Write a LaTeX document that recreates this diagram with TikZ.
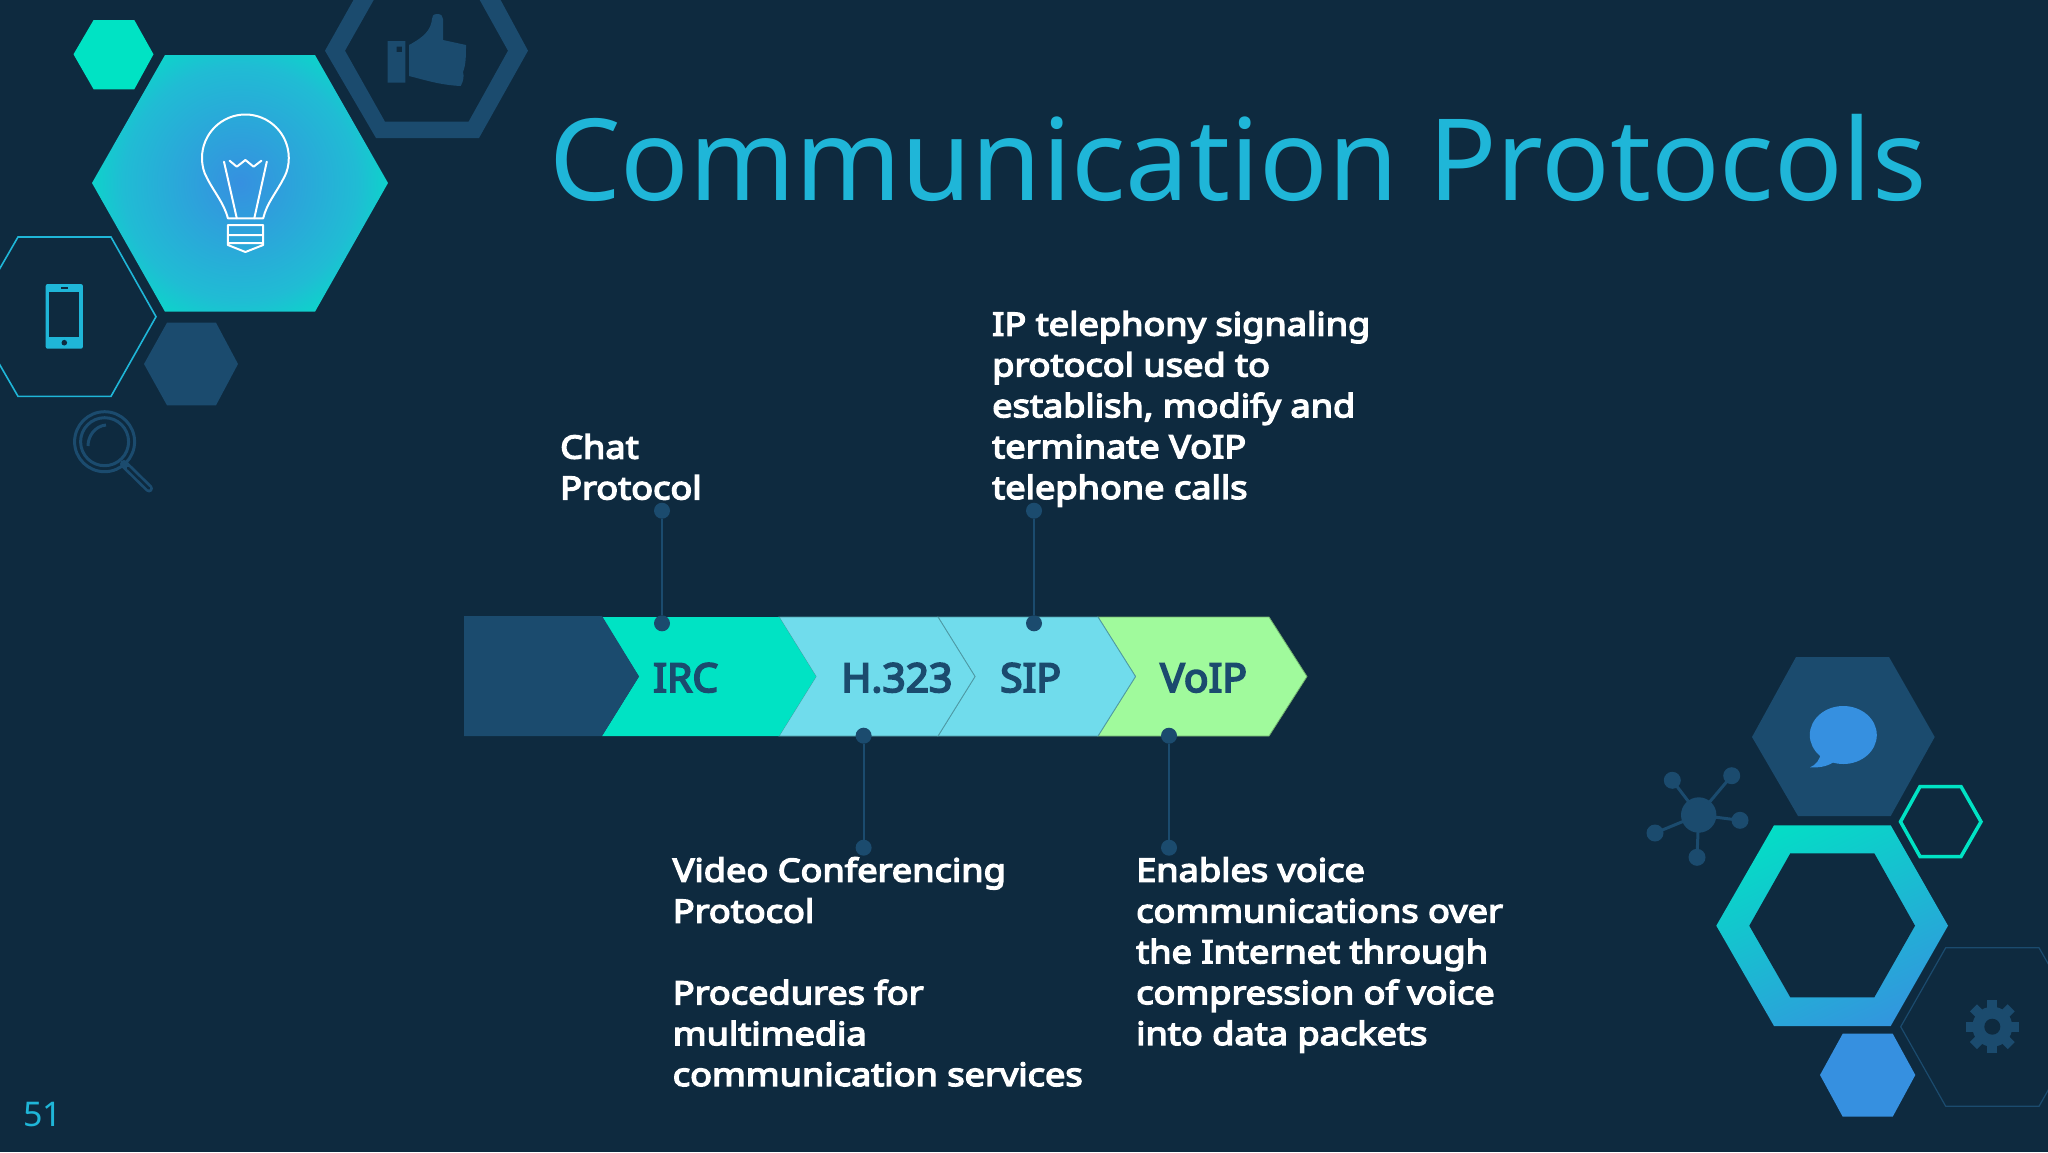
\documentclass[tikz,border=0pt]{standalone}
\usepackage{fontspec}
\setmainfont{Noto Sans}
\newfontfamily\lblfont{Noto Sans}[FakeBold=4.5,FakeStretch=1.13]
\newfontfamily\chevfont{Noto Sans}[FakeBold=4.5,FakeStretch=1.02]
\definecolor{bg}{HTML}{0E2A3F}
\definecolor{navy}{HTML}{1B4B6E}
\definecolor{teal}{HTML}{00E3C4}
\definecolor{sky}{HTML}{70DCEC}
\definecolor{mint}{HTML}{A0FA9C}
\definecolor{azure}{HTML}{3690E0}
\definecolor{cyan1}{HTML}{1FB6D8}
\definecolor{cyan2}{HTML}{20BCD4}
\pgfdeclareradialshading{hexglow}{\pgfpoint{0bp}{0bp}}{color(0bp)=(azure);color(17bp)=(cyan2);color(25bp)=(teal);color(50bp)=(teal)}
\tikzset{
  title/.style={inner sep=0pt,anchor=base west,text=cyan1,font=\fontsize{113.5}{130}\selectfont},
  lab/.style={inner sep=0pt,anchor=north west,align=left,text=white,font=\lblfont\fontsize{32}{40.86}\selectfont},
  chevlab/.style={inner sep=0pt,anchor=base west,text=navy,font=\chevfont\fontsize{40}{48}\selectfont},
  pinhead/.style={circle,fill=navy,inner sep=0pt,minimum size=16pt},
  pinline/.style={draw=navy,line width=2pt},
  edge1/.style={line width=0.8pt},
  bulb/.style={draw=white,line width=2pt,line join=round,line cap=round},
}
\begin{document}
\begin{tikzpicture}[x=1pt,y=-1pt]
\useasboundingbox (0,0) rectangle (2048,1152);
\fill[bg] (0,0) rectangle (2048,1152);

% top-left decoration
\fill[teal] (73.5,54.3)--(93.6,20)--(134.3,20)--(153.5,54.3)--(134.3,89.3)--(93.6,89.3)--cycle;
\begin{scope}
\clip (92,183)--(165,55)--(315,55)--(388,183)--(315,311.7)--(165,311.7)--cycle;
\shade[shading=hexglow] (240,183) circle[radius=172pt];
\end{scope}
\fill[navy,even odd rule] (325,50.7)--(376,-40)--(479,-40)--(528,50.7)--(479,138)--(376,138)--cycle
  (345,50.7)--(385,-20)--(468.6,-20)--(508,50.7)--(468.6,121.7)--(385,121.7)--cycle;
\draw[cyan1,line width=1.6pt] (156,316.7)--(111,237)--(18,237)--(-28,316.7)--(18,396.3)--(111,396.3)--cycle;
\fill[navy] (144,364)--(167,322.7)--(216,322.7)--(238,364)--(216,405.3)--(167,405.3)--cycle;

% thumb
\fill[navy,even odd rule] (387.5,41) rectangle (405.4,82.7) (396.5,46.5) rectangle (402,52);
\fill[navy,line join=round] (437.5,14) .. controls (433,14) and (432,16) .. (432,19) .. controls (431,30) and (424,37) .. (409,45)
  -- (409,76) .. controls (425,80) and (440,85) .. (460.7,86) .. controls (464,80) and (464,76) .. (463,72)
  .. controls (466,65) and (466,55) .. (466,45) -- (443,40) -- (443,19) .. controls (443,16) and (441,14) .. (437.5,14) -- cycle;

% bulb
\draw[bulb] (227.9,218.3) .. controls (224,203) and (214,192) .. (207,178)
  .. controls (203.5,172) and (202,165) .. (202,158)
  .. controls (202,134) and (221.4,114.5) .. (245.4,114.5)
  .. controls (269.4,114.5) and (288.8,134) .. (288.8,158)
  .. controls (288.8,165) and (287.3,172) .. (283.8,178)
  .. controls (276.8,192) and (266.8,203) .. (263.2,218.3) -- cycle;
\draw[bulb] (224,161.7)--(236.8,218.3) (266.8,161.7)--(254.3,218.3);
\draw[bulb] (229.6,160.7)--(236.8,166.7)--(245.4,160)--(253.6,166.7)--(261.4,160.7);
\draw[bulb] (227.9,225)--(263.2,225)--(263.2,245)--(245.4,252)--(227.9,245)--cycle (227.9,235)--(263.2,235) (227.9,243)--(263.2,243);

% phone
\fill[cyan1,rounded corners=2pt] (45.7,284) rectangle (82.9,348.7);
\fill[bg] (49.3,292.3) rectangle (78.6,336.7);
\fill[bg] (60.5,287.2) rectangle (68,289);
\fill[bg] (64.3,342.7) circle[radius=2.8pt];

% magnifier
\draw[navy,line width=3pt] (104.6,441.7) circle[radius=30pt];
\draw[navy,line width=3pt] (104.6,441.7) circle[radius=24pt];
\draw[navy,line width=3pt] (88,446) .. controls (88,436) and (95,426) .. (106,425);
\draw[navy,line width=8pt,line cap=round] (124,464) -- (149,488.5);
\draw[bg,line width=2.5pt,line cap=round] (128,468) -- (149,488.5);

% bottom-right decoration
\fill[navy] (1752,737)--(1796,657)--(1889,657)--(1934.7,737)--(1890.7,816)--(1798,816)--cycle;
\fill[azure] (1843.3,735) ellipse[x radius=33.5pt,y radius=29pt];
\fill[azure] (1821,752) .. controls (1820,760) and (1816,765) .. (1810,767.3) .. controls (1820,768) and (1830,766) .. (1836,760) -- cycle;
\draw[teal,line width=3.5pt] (1900.5,821.7)--(1920,786.5)--(1961,786.5)--(1981,821.7)--(1961,856.5)--(1920,856.5)--cycle;
\begin{scope}
\clip (1716.3,925.7)--(1774,825.3)--(1890.7,825.3)--(1948,925.7)--(1890.7,1026)--(1774,1026)--cycle;
\shade[left color=teal,right color=azure,shading angle=25] (1690,800) rectangle (1975,1050);
\fill[bg] (1749.3,925.7)--(1790.3,853.3)--(1874.3,853.3)--(1915,925.7)--(1874.3,997.3)--(1790.3,997.3)--cycle;
\end{scope}
\fill[azure] (1820,1075)--(1842.7,1033.7)--(1892.7,1033.7)--(1915.3,1075)--(1892.7,1116.7)--(1842.7,1116.7)--cycle;
\draw[navy,line width=1.2pt] (1900.7,1026.7)--(1945.7,947.7)--(2039,947.7)--(2084,1026.7)--(2039,1106.3)--(1945.7,1106.3)--cycle;

% gear
\foreach \a in {0,45,...,315}{
  \fill[navy,rotate around={\a:(1992.3,1026.7)}] (1987.3,1000) rectangle (1997.3,1010);
}
\fill[navy] (1992.3,1026.7) circle[radius=20pt];
\fill[bg] (1992.3,1026.7) circle[radius=8pt];

% network
\fill[navy] (1698.7,815) circle[radius=17.7pt];
\foreach \sx/\sy in {1672.3/780.3,1731.7/775.7,1740/820.3,1697/857.3,1655/833}{
  \fill[navy] (\sx,\sy) circle[radius=8.5pt];
  \draw[navy,line width=3pt] (\sx,\sy) -- (1698.7,815);
}

% chevrons
\path[fill=mint,draw=mint!70!black,edge1] (1098,617)--(1269,617)--(1307,676.5)--(1269,736)--(1098,736)--(1135.5,676.5)--cycle;
\path[fill=sky,draw=sky!70!black,edge1] (938,617)--(1098,617)--(1135.5,676.5)--(1098,736)--(938,736)--(975,676.5)--cycle;
\path[fill=sky,draw=sky!70!black,edge1] (779,617)--(938,617)--(975,676.5)--(938,736)--(779,736)--(816,676.5)--cycle;
\fill[teal] (602,617)--(779,617)--(816,676.5)--(779,736)--(602,736)--(639,676.5)--cycle;
\fill[navy] (464,616)--(602,616)--(639,676.5)--(602,736)--(464,736)--cycle;

\node[chevlab] (irc) at (653,692) {IRC};
\node[chevlab] (h323) at (841,692) {H.323};
\node[chevlab] (sip) at (1000,692) {SIP};
\node[chevlab] (voip) at (1160,692) {VoIP};

% pins
\node[pinhead] (p1a) at (662,510.7) {};
\node[pinhead] (p1b) at (662,623.3) {};
\node[pinhead] (p2a) at (863.6,735.7) {};
\node[pinhead] (p2b) at (863.6,847.7) {};
\node[pinhead] (p3a) at (1034,510.7) {};
\node[pinhead] (p3b) at (1034,623.3) {};
\node[pinhead] (p4a) at (1169,735.7) {};
\node[pinhead] (p4b) at (1169,847.7) {};
\draw[pinline] (p1a) -- (p1b);
\draw[pinline] (p2a) -- (p2b);
\draw[pinline] (p3a) -- (p3b);
\draw[pinline] (p4a) -- (p4b);

% texts
\node[title] (ttl) at (549,200) {Communication Protocols};
\node[lab] (t1) at (560,434) {Chat\\Protocol};
\node[lab] (t3) at (992,311) {IP telephony signaling\\protocol used to\\establish, modify and\\terminate VoIP\\telephone calls};
\node[lab] (t2) at (672.6,857) {Video Conferencing\\Protocol\\[40.86pt]Procedures for\\multimedia\\communication services};
\node[lab] (t4) at (1136,857) {Enables voice\\communications over\\the Internet through\\compression of voice\\into data packets};
\node[inner sep=0pt,anchor=base west,text=cyan1,font=\fontsize{34}{40}\selectfont] (num) at (23,1126) {51};
\end{tikzpicture}
\end{document}
